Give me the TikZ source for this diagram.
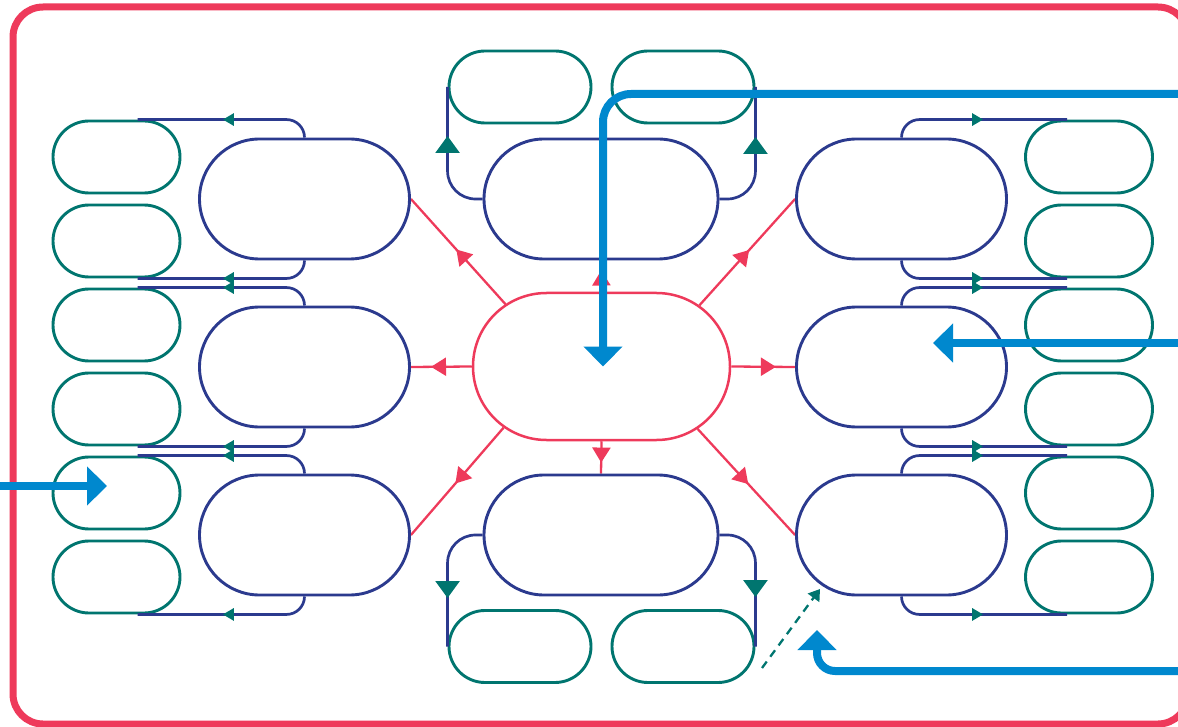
\documentclass[tikz,border=0pt]{standalone}
\usetikzlibrary{arrows.meta,shapes.misc,decorations.markings,backgrounds,calc}
\definecolor{frameRed}{HTML}{EE3A5B}
\definecolor{navyC}{HTML}{2B3A8E}
\definecolor{tealC}{HTML}{00756F}
\definecolor{blueC}{HTML}{0088CE}
\tikzset{
  redbox/.style={rounded rectangle, draw=frameRed, line width=2.5pt, fill=white, inner sep=0pt, minimum width=257pt, minimum height=147pt},
  navybox/.style={rounded rectangle, draw=navyC, line width=2.9pt, fill=white, inner sep=0pt, minimum width=210pt, minimum height=120pt},
  navywide/.style={navybox, minimum width=234pt},
  tealbox/.style={rounded rectangle, draw=tealC, line width=2.9pt, fill=white, inner sep=0pt, minimum width=127pt, minimum height=72pt},
  tealwide/.style={tealbox, minimum width=142pt},
  navylink/.style={draw=navyC, line width=2.7pt, rounded corners=18pt, postaction={decorate},
    decoration={markings, mark=at position 92pt with {\arrow{Triangle[length=11pt,width=12pt,color=tealC]}}}},
  navyvert/.style={draw=navyC, line width=2.7pt, rounded corners=28pt, postaction={decorate},
    decoration={markings, mark=at position 86pt with {\arrow{Triangle[length=17pt,width=24pt,color=tealC]}}}},
  redlink/.style={draw=frameRed, line width=2.3pt, postaction={decorate},
    decoration={markings, mark=at position #1 with {\arrow{Triangle[length=15pt,width=18pt]}}}},
  bluelink/.style={draw=blueC, line width=8pt, -{Triangle[length=20pt,width=38pt]}},
  dashlink/.style={draw=tealC, line width=2.3pt, dash pattern=on 8pt off 6pt, -{Triangle[length=11pt,width=14pt]}}
}
\begin{document}
\begin{tikzpicture}[x=1pt,y=-1pt]
\useasboundingbox (0,0) rectangle (1178,727);
\clip (0,0) rectangle (1178,727);
% frame
\draw[frameRed, line width=7pt, rounded corners=30pt] (13,7) rectangle (1188,724);
% nodes
\node[redbox] (c) at (601.5,366.5) {};
\node[navybox] (L1) at (304.5,199) {};
\node[navybox] (L2) at (304.5,367) {};
\node[navybox] (L3) at (304.5,535) {};
\node[navybox] (R1) at (901.5,199) {};
\node[navybox] (R2) at (901.5,367) {};
\node[navybox] (R3) at (901.5,535) {};
\node[navywide] (T) at (601,199) {};
\node[navywide] (B) at (601,535) {};
\foreach \i/\y in {1/157,2/241,3/325,4/409,5/493,6/577}{
  \node[tealbox] (lt\i) at (116.5,\y) {};
  \node[tealbox] (rt\i) at (1089,\y) {};
}
\node[tealwide] (tt1) at (520,87) {};
\node[tealwide] (tt2) at (683,87) {};
\node[tealwide] (bt1) at (520,646.5) {};
\node[tealwide] (bt2) at (683,646.5) {};
% navy links left
\path[navylink] (L1.north) |- ($(lt1.north)+(21,0)$);
\path[navylink] (L1.south) |- ($(lt2.south)+(21,0)$);
\path[navylink] (L2.north) |- ($(lt3.north)+(21,0)$);
\path[navylink] (L2.south) |- ($(lt4.south)+(21,0)$);
\path[navylink] (L3.north) |- ($(lt5.north)+(21,0)$);
\path[navylink] (L3.south) |- ($(lt6.south)+(21,0)$);
% navy links right
\path[navylink] (R1.north) |- ($(rt1.north)+(-22,0)$);
\path[navylink] (R1.south) |- ($(rt2.south)+(-22,0)$);
\path[navylink] (R2.north) |- ($(rt3.north)+(-22,0)$);
\path[navylink] (R2.south) |- ($(rt4.south)+(-22,0)$);
\path[navylink] (R3.north) |- ($(rt5.north)+(-22,0)$);
\path[navylink] (R3.south) |- ($(rt6.south)+(-22,0)$);
% top / bottom
\path[navyvert] (T.west) -| (tt1.west);
\path[navyvert] (T.east) -| (tt2.east);
\path[navyvert] (B.west) -| (bt1.west);
\path[navyvert] (B.east) -| (bt2.east);
\begin{scope}[on background layer]
  % red links
  \path[redlink=0.68] (c.north) -- (T.south);
  \path[redlink=0.66] (c.south) -- (B.north);
  \path[redlink=0.67] (c.west) -- (L2.east);
  \path[redlink=0.7] (c.east) -- (R2.west);
  \path[redlink=0.52] (c.147.5) -- (L1.east);
  \path[redlink=0.52] (c.32.5) -- (R1.west);
  \path[redlink=0.52] (c.212.5) -- (L3.east);
  \path[redlink=0.52] (c.327.5) -- (R3.west);
\end{scope}
% dashed
\coordinate (ds) at (762,668);
\coordinate (de) at (820,589);
\draw[dashlink] (ds) -- (de);
% blue arrows
\coordinate (b1s) at (1195,94);
\coordinate (b1e) at (603,366.5);
\draw[bluelink, rounded corners=28pt] (b1s) -| (b1e);
\coordinate (b2s) at (1195,343);
\coordinate (b2e) at (933,343);
\draw[bluelink] (b2s) -- (b2e);
\coordinate (b3s) at (-10,486);
\coordinate (b3e) at (107,486);
\draw[bluelink] (b3s) -- (b3e);
\coordinate (b4s) at (1195,671);
\coordinate (b4e) at (817,630);
\draw[bluelink, rounded corners=18pt] (b4s) -| (b4e);
\end{tikzpicture}
\end{document}
